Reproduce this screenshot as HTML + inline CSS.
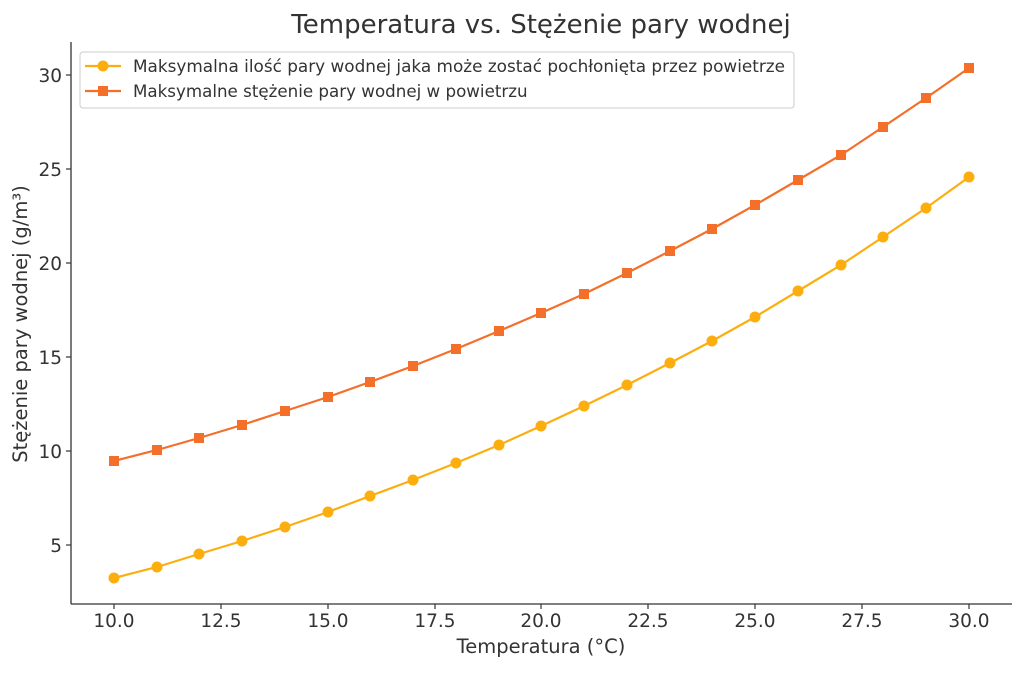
<!DOCTYPE html>
<html><head><meta charset="utf-8"><style>
html,body{margin:0;padding:0;background:#fff;}
svg text{font-family:"DejaVu Sans","Liberation Sans",sans-serif;fill:#333;}
</style></head><body>
<svg width="1024" height="669" xmlns="http://www.w3.org/2000/svg">
<text x="541" y="33" font-size="26" text-anchor="middle">Temperatura vs. Stężenie pary wodnej</text>
<g stroke="#333" stroke-width="1.3" fill="none">
<line x1="71" y1="42" x2="71" y2="604"/>
<line x1="71" y1="604" x2="1012" y2="604"/>
</g>
<g stroke="#333" stroke-width="1.2">
<line x1="66" y1="75" x2="71" y2="75"/><line x1="66" y1="169" x2="71" y2="169"/><line x1="66" y1="263" x2="71" y2="263"/><line x1="66" y1="357" x2="71" y2="357"/><line x1="66" y1="451" x2="71" y2="451"/><line x1="66" y1="545" x2="71" y2="545"/>
<line x1="114" y1="604" x2="114" y2="609"/><line x1="221" y1="604" x2="221" y2="609"/><line x1="328" y1="604" x2="328" y2="609"/><line x1="435" y1="604" x2="435" y2="609"/><line x1="541" y1="604" x2="541" y2="609"/><line x1="648" y1="604" x2="648" y2="609"/><line x1="755" y1="604" x2="755" y2="609"/><line x1="862" y1="604" x2="862" y2="609"/><line x1="969" y1="604" x2="969" y2="609"/>
</g>
<g font-size="18.5" text-anchor="end">
<text x="62" y="82">30</text><text x="62" y="176">25</text><text x="62" y="270">20</text><text x="62" y="364">15</text><text x="62" y="458">10</text><text x="62" y="552">5</text>
</g>
<g font-size="18.5" text-anchor="middle">
<text x="114" y="627">10.0</text><text x="221" y="627">12.5</text><text x="328" y="627">15.0</text><text x="435" y="627">17.5</text><text x="541" y="627">20.0</text><text x="648" y="627">22.5</text><text x="755" y="627">25.0</text><text x="862" y="627">27.5</text><text x="969" y="627">30.0</text>
</g>
<text x="541" y="653" font-size="19.5" text-anchor="middle">Temperatura (°C)</text>
<text transform="translate(27,324) rotate(-90)" font-size="19.5" text-anchor="middle">Stężenie pary wodnej (g/m³)</text>
<polyline fill="none" stroke="#f36f2a" stroke-width="2.2" points="114,461 157,450 199,438 242,425 285,411 328,397 370,382 413,366 456,349 499,331 541,313 584,294 627,273 670,251 712,229 755,205 798,180 841,155 883,127 926,98 969,68"/>
<g fill="#f36f2a">
<rect x="109" y="456" width="10" height="10"/><rect x="152" y="445" width="10" height="10"/><rect x="194" y="433" width="10" height="10"/><rect x="237" y="420" width="10" height="10"/><rect x="280" y="406" width="10" height="10"/><rect x="323" y="392" width="10" height="10"/><rect x="365" y="377" width="10" height="10"/><rect x="408" y="361" width="10" height="10"/><rect x="451" y="344" width="10" height="10"/><rect x="494" y="326" width="10" height="10"/><rect x="536" y="308" width="10" height="10"/><rect x="579" y="289" width="10" height="10"/><rect x="622" y="268" width="10" height="10"/><rect x="665" y="246" width="10" height="10"/><rect x="707" y="224" width="10" height="10"/><rect x="750" y="200" width="10" height="10"/><rect x="793" y="175" width="10" height="10"/><rect x="836" y="150" width="10" height="10"/><rect x="878" y="122" width="10" height="10"/><rect x="921" y="93" width="10" height="10"/><rect x="964" y="63" width="10" height="10"/>
</g>
<polyline fill="none" stroke="#fcae0f" stroke-width="2.2" points="114,578 157,567 199,554 242,541 285,527 328,512 370,496 413,480 456,463 499,445 541,426 584,406 627,385 670,363 712,341 755,317 798,291 841,265 883,237 926,208 969,177"/>
<g fill="#fcae0f">
<circle cx="114" cy="578" r="5.5"/><circle cx="157" cy="567" r="5.5"/><circle cx="199" cy="554" r="5.5"/><circle cx="242" cy="541" r="5.5"/><circle cx="285" cy="527" r="5.5"/><circle cx="328" cy="512" r="5.5"/><circle cx="370" cy="496" r="5.5"/><circle cx="413" cy="480" r="5.5"/><circle cx="456" cy="463" r="5.5"/><circle cx="499" cy="445" r="5.5"/><circle cx="541" cy="426" r="5.5"/><circle cx="584" cy="406" r="5.5"/><circle cx="627" cy="385" r="5.5"/><circle cx="670" cy="363" r="5.5"/><circle cx="712" cy="341" r="5.5"/><circle cx="755" cy="317" r="5.5"/><circle cx="798" cy="291" r="5.5"/><circle cx="841" cy="265" r="5.5"/><circle cx="883" cy="237" r="5.5"/><circle cx="926" cy="208" r="5.5"/><circle cx="969" cy="177" r="5.5"/>
</g>
<rect x="80" y="52" width="714" height="56" rx="3" fill="#fff" stroke="#ccc" stroke-width="1"/>
<line x1="85" y1="66" x2="121" y2="66" stroke="#fcae0f" stroke-width="2.2"/>
<circle cx="103" cy="66" r="5.5" fill="#fcae0f"/>
<line x1="85" y1="91" x2="121" y2="91" stroke="#f36f2a" stroke-width="2.2"/>
<rect x="98" y="86" width="10" height="10" fill="#f36f2a"/>
<text x="133" y="72" font-size="16.7" textLength="652" lengthAdjust="spacingAndGlyphs">Maksymalna ilość pary wodnej jaka może zostać pochłonięta przez powietrze</text>
<text x="133" y="97" font-size="16.7">Maksymalne stężenie pary wodnej w powietrzu</text>
</svg>
</body></html>
